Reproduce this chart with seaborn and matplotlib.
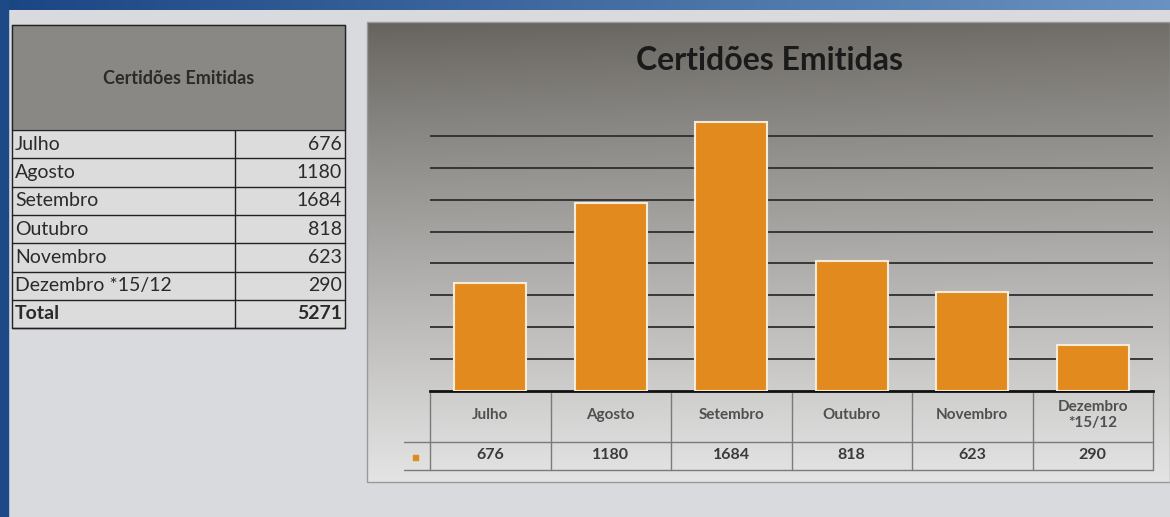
import numpy as np
import matplotlib
matplotlib.use("Agg")
import matplotlib.pyplot as plt
import matplotlib.transforms as mtransforms
from matplotlib.patches import Rectangle
import seaborn as sns

# ---- data ----
months_table = ["Julho", "Agosto", "Setembro", "Outubro", "Novembro", "Dezembro *15/12"]
months_chart = ["Julho", "Agosto", "Setembro", "Outubro", "Novembro", "Dezembro\n*15/12"]
values = [676, 1180, 1684, 818, 623, 290]
total_label = "Total"
total_value = 5271
title = "Certidões Emitidas"
grid_ticks = [200, 400, 600, 800, 1000, 1200, 1400, 1600]

sns.set_theme(style="white")
plt.rcParams["font.family"] = ["Lato", "DejaVu Sans"]

W, H = 1170, 517
fig = plt.figure(figsize=(W / 100, H / 100), dpi=100)
fig.patch.set_facecolor("#d3d6da")

# background / overlay axes in pixel coordinates
bg = fig.add_axes([0, 0, 1, 1], zorder=0)
bg.set_xlim(0, W)
bg.set_ylim(H, 0)
bg.axis("off")

# blue frame (top and left)
top_grad = np.linspace(0, 1, 256)[None, :, None]
c1 = np.array([0x1b, 0x46, 0x84]) / 255
c2 = np.array([0x6a, 0x92, 0xc0]) / 255
bg.imshow(c1 * (1 - top_grad) + c2 * top_grad, extent=[0, W, 10, 0], aspect="auto", zorder=1)
bg.add_patch(Rectangle((0, 0), 8, H, color="#1d4a86", zorder=1))
bg.add_patch(Rectangle((8, 10), W - 8, H - 10, color="#d8dadd", zorder=0.5))

# chart panel gradient
ph = 200
t = np.linspace(0, 1, ph)[:, None, None]
xs = np.linspace(0, 1, 300)[None, :, None]
top_c = np.array([0x66, 0x63, 0x5e]) / 255
bot_c = np.array([0xe4, 0xe4, 0xe4]) / 255
tt = np.clip(t ** 0.9, 0, 1)
grad = top_c * (1 - tt) + bot_c * tt
grad = grad + 0.04 * xs * (1 - tt)
grad = np.clip(grad, 0, 1)
bg.imshow(grad, extent=[367, W, 482, 22], aspect="auto", zorder=2)
bg.add_patch(Rectangle((367, 22), W - 367, 460, fill=False, ec="#9a9a9a", lw=1, zorder=3))
bg.text(770, 60, title, ha="center", va="center", fontsize=23, fontweight="bold",
        color="#1a1a1a", zorder=4)

# left table
tx0, tx1, tx2 = 12, 235, 345
bg.add_patch(Rectangle((tx0, 25), tx2 - tx0, 105, color="#8a8884", zorder=3))
bg.add_patch(Rectangle((tx0, 130), tx2 - tx0, 198, color="#dcdcdc", zorder=3))
bg.text((tx0 + tx2) / 2, 78, title, ha="center", va="center", fontsize=13,
        fontweight="bold", color="#2a2a2a", zorder=4)
row_h = 28.3
rows = list(zip(months_table, values)) + [(total_label, total_value)]
y0 = 130
for i, (lab, val) in enumerate(rows):
    yc = y0 + (i + 0.5) * row_h
    bold = "bold" if lab == total_label else "normal"
    bg.text(tx0 + 3, yc, lab, ha="left", va="center", fontsize=14, color="#2a2a2a",
            fontweight=bold, zorder=4)
    bg.text(tx2 - 3, yc, f"{val}", ha="right", va="center", fontsize=14, color="#2a2a2a",
            fontweight=bold, zorder=4)
for i in range(len(rows) + 1):
    yy = y0 + i * row_h
    bg.plot([tx0, tx2], [yy, yy], color="#222222", lw=1, zorder=4)
bg.plot([tx0, tx2, tx2, tx0, tx0], [25, 25, 328, 328, 25], color="#222222", lw=1, zorder=4)
bg.plot([tx1, tx1], [130, 328], color="#222222", lw=1, zorder=4)

# bar chart axes
ax_l, ax_r = 430, 1153
ax_b, ax_t = 391, 104
ax = fig.add_axes([ax_l / W, (H - ax_b) / H, (ax_r - ax_l) / W, (ax_b - ax_t) / H], zorder=5)
ax.patch.set_alpha(0)
sns.barplot(x=months_chart, y=values, color="#e38a1e", saturation=1, width=0.6,
            edgecolor="#f6ead8", linewidth=1.5, ax=ax, zorder=3)
ax.set_xlim(-0.5, len(values) - 0.5)
ax.set_ylim(0, 1800)
ax.set_yticks(grid_ticks)
ax.yaxis.grid(True, color="#2e2e2e", lw=1.3)
ax.set_axisbelow(True)
ax.set_yticklabels([])
ax.set_xticks([])
ax.set_xlabel("")
ax.set_ylabel("")
for s in ["top", "left", "right"]:
    ax.spines[s].set_visible(False)
ax.spines["bottom"].set_color("#111111")
ax.spines["bottom"].set_linewidth(2)

# data table below the chart
tr = mtransforms.blended_transform_factory(ax.transData, bg.transData)
line_c = "#7a7a7a"
n = len(values)
for i in range(n + 1):
    bg.plot([i - 0.5, i - 0.5], [393, 470], color=line_c, lw=1, transform=tr, zorder=4)
bg.plot([-0.5, n - 0.5], [442, 442], color=line_c, lw=1, transform=tr, zorder=4)
bg.plot([-0.5, n - 0.5], [470, 470], color=line_c, lw=1, transform=tr, zorder=4)
bg.plot([404, ax_l], [442, 442], color=line_c, lw=1, zorder=4)
bg.plot([404, ax_l], [470, 470], color=line_c, lw=1, zorder=4)
bg.add_patch(Rectangle((412.5, 454.5), 5, 5, color="#e38a1e", zorder=4))
for i, (lab, val) in enumerate(zip(months_chart, values)):
    bg.text(i, 415, lab, ha="center", va="center", fontsize=11, fontweight="bold",
            color="#505050", transform=tr, zorder=4, linespacing=1.15)
    bg.text(i, 455, f"{val}", ha="center", va="center", fontsize=11.5, fontweight="bold",
            color="#3a3a3a", transform=tr, zorder=4)

fig.savefig("out.png", dpi=100)
